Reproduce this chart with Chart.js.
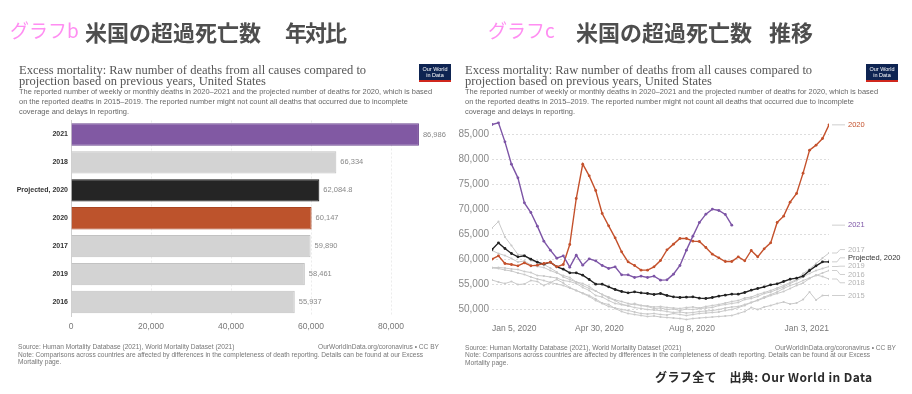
<!DOCTYPE html>
<html><head><meta charset="utf-8">
<script src="https://cdn.jsdelivr.net/npm/chart.js@4.4.1/dist/chart.umd.min.js"></script>
<style>
html,body{margin:0;padding:0;background:#fff;}
body{width:912px;height:394px;position:relative;overflow:hidden;font-family:"Liberation Sans",Arial,sans-serif;}
.abs{position:absolute;white-space:nowrap;z-index:2;}
canvas{position:absolute;top:0;z-index:1;}
.jp{font-family:"Noto Sans CJK JP",sans-serif;}
.pink{color:#ff8ef2;font-size:19px;line-height:22px;}
.hd{color:#4e4e4e;font-size:22px;font-weight:bold;line-height:24px;}
.ttl{font-family:"Liberation Serif","DejaVu Serif",serif;color:#555;font-size:12.5px;line-height:11px;}
.desc{color:#666;font-size:7.45px;line-height:10px;}
.foot{color:#777;font-size:6.6px;line-height:7.7px;}
.logo{width:32px;background:#0e2452;border-bottom:2px solid #d0271d;color:#fff;font-size:5.5px;line-height:6px;text-align:center;padding-top:2px;box-sizing:content-box;height:14px;}
</style>
</head><body>
<canvas id="bar" width="456" height="394" style="left:0"></canvas>
<canvas id="line" width="456" height="394" style="left:456px"></canvas>

<div class="abs jp pink" style="left:10px;top:19px;">グラフb</div>
<div class="abs jp hd" style="left:85px;top:18.7px;">米国の超過死亡数</div>
<div class="abs jp hd" style="left:285px;top:18.7px;letter-spacing:-2px;">年対比</div>

<div class="abs jp pink" style="left:488px;top:19px;">グラフc</div>
<div class="abs jp hd" style="left:576px;top:18.7px;">米国の超過死亡数</div>
<div class="abs jp hd" style="left:769px;top:18.7px;">推移</div>

<div class="abs ttl" style="left:19px;top:64.5px;">Excess mortality: Raw number of deaths from all causes compared to<br>projection based on previous years, United States</div>
<div class="abs desc" style="left:19px;top:87.3px;">The reported number of weekly or monthly deaths in 2020–2021 and the projected number of deaths for 2020, which is based<br>on the reported deaths in 2015–2019. The reported number might not count all deaths that occurred due to incomplete<br>coverage and delays in reporting.</div>
<div class="abs logo" style="left:419px;top:64px;">Our World<br>in Data</div>

<div class="abs ttl" style="left:465px;top:64.5px;">Excess mortality: Raw number of deaths from all causes compared to<br>projection based on previous years, United States</div>
<div class="abs desc" style="left:465px;top:87.3px;">The reported number of weekly or monthly deaths in 2020–2021 and the projected number of deaths for 2020, which is based<br>on the reported deaths in 2015–2019. The reported number might not count all deaths that occurred due to incomplete<br>coverage and delays in reporting.</div>
<div class="abs logo" style="left:866px;top:64px;">Our World<br>in Data</div>

<div class="abs foot" style="left:18px;top:342.9px;">Source: Human Mortality Database (2021), World Mortality Dataset (2021)<br>Note: Comparisons across countries are affected by differences in the completeness of death reporting. Details can be found at our Excess<br>Mortality page.</div>
<div class="abs foot" style="right:473px;top:342.9px;text-align:right;">OurWorldInData.org/coronavirus • CC BY</div>

<div class="abs foot" style="left:465px;top:343.5px;">Source: Human Mortality Database (2021), World Mortality Dataset (2021)<br>Note: Comparisons across countries are affected by differences in the completeness of death reporting. Details can be found at our Excess<br>Mortality page.</div>
<div class="abs foot" style="right:16px;top:343.5px;text-align:right;">OurWorldInData.org/coronavirus • CC BY</div>

<div class="abs jp" style="left:655px;top:369px;font-size:12px;line-height:15px;color:#2a2a2a;font-weight:bold;letter-spacing:0.4px;">グラフ全て　出典: Our World in Data</div>

<script>
// ---------- Graph b (bar chart) data ----------
const barCategories = ['2021', '2018', 'Projected, 2020', '2020', '2017', '2019', '2016'];
const barValues = [86986, 66334, 62084.8, 60147, 59890, 58461, 55937];
const barAxisTicks = [0, 20000, 40000, 60000, 80000];

// ---------- Graph c (weekly line chart) data ----------
const xTickDays = [0, 116, 216, 364];
const xTickLabels = ['Jan 5, 2020', 'Apr 30, 2020', 'Aug 8, 2020', 'Jan 3, 2021'];
const lineYTicks = [50000, 55000, 60000, 65000, 70000, 75000, 80000, 85000];
const weekDays = [0,7,14,21,28,35,42,49,56,63,70,77,84,91,98,105,112,119,126,133,140,147,154,161,168,175,182,189,196,203,210,217,224,231,238,245,252,259,266,273,280,287,294,301,308,315,322,329,336,343,350,357,364];

const seriesNames = ['2021', '2020', 'Projected, 2020', '2017', '2019', '2016', '2018', '2015'];
const s2021 = [87000,87330,83530,79070,76330,71330,69400,66670,63670,61870,60270,60730,58470,60870,58870,60130,59730,58800,58200,58530,56930,56930,56400,56670,56400,56670,55870,55930,57070,58800,61870,64670,67400,69070,70070,69800,69000,66870];
const s2020 = [60070,60730,59200,59000,58730,59330,58730,58870,59200,59470,58530,59000,63000,72200,79070,76730,73800,69200,66730,64330,61530,59530,58800,57870,57870,58530,59800,61930,63070,64200,64200,63670,63600,62400,61070,60330,59600,59600,60530,59730,61800,60530,62130,63330,67400,68670,71470,73200,77270,81870,82870,84200,86930];
const sProjected = [62000,63330,62200,61200,60530,60730,60070,59470,59070,59470,58530,58070,57330,57330,56870,56000,55070,55070,54530,54000,53600,53330,53530,53330,53200,53000,53200,52800,52530,52400,52470,52530,52270,52200,52400,52670,52870,53070,53070,53400,53870,54200,54530,54930,55130,55600,56070,56270,56670,57800,58730,59530,59530];
const s2017 = [61800,61200,60800,60200,59500,59700,58900,58600,58400,57800,57300,56800,56400,55500,54800,54200,53700,53000,52500,51900,51600,51200,51000,50800,50700,50500,50600,50400,50300,50200,50400,50500,50300,50600,50800,51000,51300,51600,51800,52300,52500,53000,53400,53800,54300,54800,55400,56000,57200,58100,59200,60300,61300];
const s2019 = [58400,58400,58300,58100,58000,57600,57400,56800,56700,56500,56300,55800,55600,55200,54400,53800,52800,52500,51800,51200,51000,50800,51200,50800,50600,50200,50300,50000,50100,49800,50100,50000,50200,50300,50400,50800,51000,51200,51400,52000,52200,52600,53200,53500,54000,54500,55200,55800,56500,57200,57800,58200,58600];
const s2016 = [58300,58200,57900,57700,57300,57000,56500,56100,55800,55400,55100,54800,54300,53800,53200,52600,51800,51200,50600,50300,50000,49800,49500,49200,49100,49200,49000,48900,49200,49000,48800,49000,49200,49300,49400,49500,49800,50000,50400,50800,51400,51900,52500,53000,53500,54200,54800,55200,55800,56300,56800,57300,57800];
const s2018 = [66300,67600,64500,62800,61000,60900,59800,59400,59000,58300,57500,56500,56000,55500,55200,54600,53700,53000,52300,51800,51000,50700,50400,50200,50000,49900,49800,49600,49400,49500,49300,49400,49600,49700,49800,50000,50300,50500,50600,51000,51400,51800,52300,52800,53200,53600,54200,54800,55300,56200,56900,56600,56100];
const s2015 = [55900,55500,55200,55600,55000,55100,55800,55600,54800,55400,56000,55300,54400,53800,53300,52800,52100,51300,51000,50200,49600,49200,49000,48800,48600,48700,48500,48400,48300,48200,48000,48200,48300,48400,48500,48600,48700,48800,49200,49600,50400,50000,50500,50800,51200,51500,51100,51300,52000,53500,51900,52800,52800];

// ---------- styles ----------
const F = '"Liberation Sans", Arial, sans-serif';
Chart.defaults.font.family = F;
const fmt = v => new Intl.NumberFormat('en-US', {maximumFractionDigits: 1}).format(v);

const barFill = ['#8159a3', '#d3d3d3', '#252525', '#bd532c', '#d3d3d3', '#d3d3d3', '#d3d3d3'];
const barEdge = ['#6d4790', '#c2c2c2', '#111111', '#a84522', '#c2c2c2', '#c2c2c2', '#c2c2c2'];

const barValueLabels = {
  id: 'barValueLabels',
  afterDatasetsDraw(chart) {
    const ctx = chart.ctx;
    const meta = chart.getDatasetMeta(0);
    ctx.save();
    ctx.font = '7.5px ' + F;
    ctx.fillStyle = '#888';
    ctx.textBaseline = 'middle';
    meta.data.forEach((el, i) => ctx.fillText(fmt(barValues[i]), el.x + 4, el.y));
    ctx.restore();
  }
};

new Chart(document.getElementById('bar'), {
  type: 'bar',
  data: {
    labels: barCategories,
    datasets: [{data: barValues, backgroundColor: barFill, borderColor: barEdge, borderWidth: 1,
      barPercentage: 0.8, categoryPercentage: 1}]
  },
  options: {
    indexAxis: 'y', responsive: false, animation: false, devicePixelRatio: 1,
    layout: {padding: {left: 0, right: 25, top: 120.5, bottom: 58}},
    plugins: {legend: {display: false}, tooltip: {enabled: false}},
    scales: {
      x: {type: 'linear', min: 0, max: 90000,
        afterBuildTicks: a => { a.ticks = barAxisTicks.map(v => ({value: v})); },
        afterFit: a => { a.height = 20; },
        grid: {color: '#ececec', drawTicks: false},
        border: {display: false, dash: [2, 2]},
        ticks: {padding: 6, color: '#777', font: {size: 8.5}, callback: v => fmt(v), autoSkip: false, maxRotation: 0}},
      y: {afterFit: a => { a.width = 71; },
        grid: {display: false, drawTicks: false},
        border: {display: true, color: '#cfcfcf'},
        ticks: {padding: 3, color: '#333', font: {size: 7, weight: 'bold'}}}
    }
  },
  plugins: [barValueLabels]
});

// ---------- line chart ----------
const lineColors = ['#7d55a6', '#c4512c', '#222222', '#c9c9c9', '#c9c9c9', '#c9c9c9', '#c9c9c9', '#c9c9c9'];
const labelColors = ['#7d55a6', '#c4512c', '#333333', '#b4b4b4', '#b4b4b4', '#b4b4b4', '#b4b4b4', '#b4b4b4'];
const seriesData = [s2021, s2020, sProjected, s2017, s2019, s2016, s2018, s2015];
const toPts = arr => arr.map((v, i) => ({x: weekDays[i], y: v}));

const endLabels = {
  id: 'endLabels',
  afterDatasetsDraw(chart) {
    const ctx = chart.ctx, right = chart.chartArea.right;
    const items = chart.data.datasets.map((ds, i) => {
      const m = chart.getDatasetMeta(i);
      const last = m.data[m.data.length - 1];
      return {y0: last.y, text: ds.label, color: labelColors[i]};
    }).sort((a, b) => a.y0 - b.y0);
    const gap = 8.3;
    let clusters = items.map(it => ({items: [it], center: it.y0}));
    let changed = true;
    while (changed) {
      changed = false;
      for (let i = 0; i < clusters.length - 1; i++) {
        const a = clusters[i], b = clusters[i + 1];
        const aBottom = a.center + (a.items.length - 1) * gap / 2;
        const bTop = b.center - (b.items.length - 1) * gap / 2;
        if (bTop - aBottom < gap) {
          const its = a.items.concat(b.items);
          const c = its.reduce((s, it) => s + it.y0, 0) / its.length;
          clusters.splice(i, 2, {items: its, center: c});
          changed = true; break;
        }
      }
    }
    ctx.save();
    ctx.font = '7.5px ' + F;
    ctx.textBaseline = 'middle';
    clusters.forEach(c => {
      c.items.forEach((it, k) => {
        const y = c.center + (k - (c.items.length - 1) / 2) * gap;
        ctx.strokeStyle = '#cfcfcf'; ctx.lineWidth = 1;
        ctx.beginPath();
        ctx.moveTo(right + 3, it.y0); ctx.lineTo(right + 8, it.y0);
        ctx.lineTo(right + 11, y); ctx.lineTo(right + 16, y);
        ctx.stroke();
        ctx.fillStyle = it.color;
        ctx.fillText(it.text, right + 19, y);
      });
    });
    ctx.restore();
  }
};

new Chart(document.getElementById('line'), {
  type: 'line',
  data: {
    datasets: seriesData.map((arr, i) => ({
      label: seriesNames[i], data: toPts(arr),
      borderColor: lineColors[i], backgroundColor: lineColors[i], pointBackgroundColor: lineColors[i],
      borderWidth: i < 3 ? 1.4 : 1, pointRadius: i < 3 ? 1.4 : 1.1, pointBorderWidth: 0,
      tension: 0, fill: false
    }))
  },
  options: {
    responsive: false, animation: false, devicePixelRatio: 1,
    layout: {padding: {left: 0, right: 83, top: 120.5, bottom: 53}},
    plugins: {legend: {display: false}, tooltip: {enabled: false}},
    scales: {
      x: {type: 'linear', min: 0, max: 364,
        afterBuildTicks: a => { a.ticks = xTickDays.map(v => ({value: v})); },
        afterFit: a => { a.height = 20; },
        grid: {display: false, drawTicks: false},
        border: {display: false},
        ticks: {align: 'inner', padding: 3, color: '#777', font: {size: 8.5}, autoSkip: false, maxRotation: 0,
          callback: (v, i) => xTickLabels[i]}},
      y: {type: 'linear', min: 47700, max: 87800,
        afterBuildTicks: a => { a.ticks = lineYTicks.map(v => ({value: v})); },
        afterFit: a => { a.width = 36; },
        grid: {color: '#dddddd', drawTicks: false},
        border: {display: false, dash: [2, 2]},
        ticks: {padding: 3, color: '#888', font: {size: 10}, callback: v => fmt(v)}}
    }
  },
  plugins: [endLabels]
});
</script>
</body></html>
